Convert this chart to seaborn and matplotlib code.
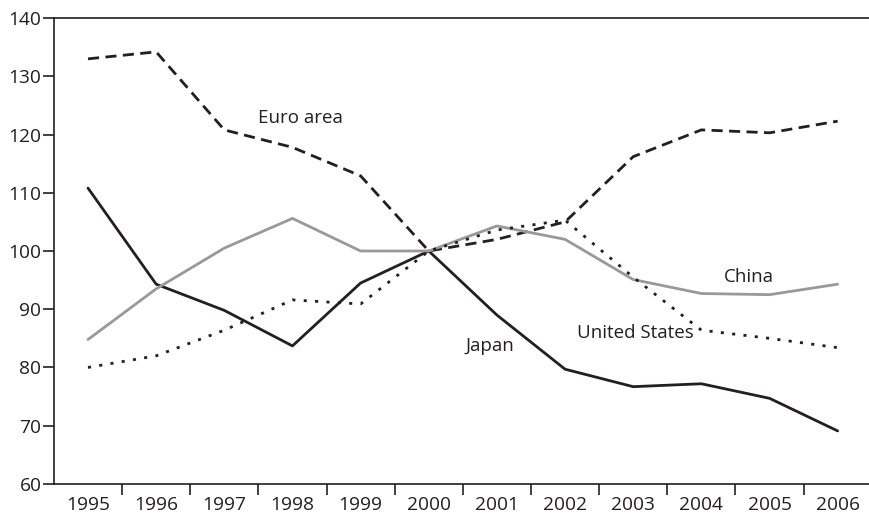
import matplotlib
matplotlib.use("Agg")
import matplotlib.pyplot as plt
import seaborn as sns
import pandas as pd
import numpy as np

years = [1995, 1996, 1997, 1998, 1999, 2000, 2001, 2002, 2003, 2004, 2005, 2006]
euro_area = [133.0, 134.2, 120.8, 117.8, 112.9, 100.0, 102.0, 105.0, 116.2, 120.8, 120.3, 122.3]
japan = [110.8, 94.3, 89.8, 83.7, 94.5, 100.0, 89.0, 79.7, 76.7, 77.2, 74.7, 69.1]
china = [84.8, 93.5, 100.5, 105.6, 100.0, 100.0, 104.3, 102.0, 95.1, 92.7, 92.5, 94.3]
united_states = [80.0, 82.0, 86.4, 91.6, 90.9, 100.0, 103.6, 105.3, 95.5, 86.4, 85.0, 83.4]

sns.set_theme(style="white")
plt.rcParams['font.family'] = ['Open Sans', 'DejaVu Sans']

fig = plt.figure(figsize=(8.7, 5.17), dpi=100)
ax = fig.add_axes([0.062, 0.064, 0.94, 0.901])

black = "#231f20"
gray = "#999999"
lw = 2.0

sns.lineplot(x=years, y=euro_area, ax=ax, color=black, lw=lw, linestyle=(0, (4, 2.3)))
sns.lineplot(x=years, y=japan, ax=ax, color=black, lw=lw)
sns.lineplot(x=years, y=china, ax=ax, color=gray, lw=lw)
sns.lineplot(x=years, y=united_states, ax=ax, color=black, lw=lw, linestyle=(0, (1.1, 3.0)))

ax.set_xlim(years[0] - 0.5, years[-1] + 0.5)
ax.set_ylim(60, 140)
ax.set_yticks(np.arange(60, 141, 10))
ax.set_xticks(years)
ax.set_xticklabels([str(y) for y in years])
ax.set_xticks([y + 0.5 for y in years[:-1]], minor=True)

for s in ["left", "bottom", "top"]:
    ax.spines[s].set_visible(True)
    ax.spines[s].set_color(black)
    ax.spines[s].set_linewidth(1.2)
ax.spines["right"].set_visible(False)

ax.tick_params(axis="y", which="major", direction="out", length=8, width=1.2,
               color=black, labelsize=13.8, labelcolor=black, left=True, pad=1)
ax.tick_params(axis="x", which="major", length=0, labelsize=13.8, labelcolor=black, pad=9, bottom=True)
ax.tick_params(axis="x", which="minor", direction="out", length=8, width=1.2, color=black, bottom=True)

tkw = dict(fontsize=13.5, color=black, va="center", ha="left")
ax.text(1997.5, 122.8, "Euro area", **tkw)
ax.text(2004.33, 95.6, "China", **tkw)
ax.text(2002.17, 85.9, "United States", **tkw)
ax.text(2000.54, 83.7, "Japan", **tkw)

fig.savefig("out.png", dpi=100)
